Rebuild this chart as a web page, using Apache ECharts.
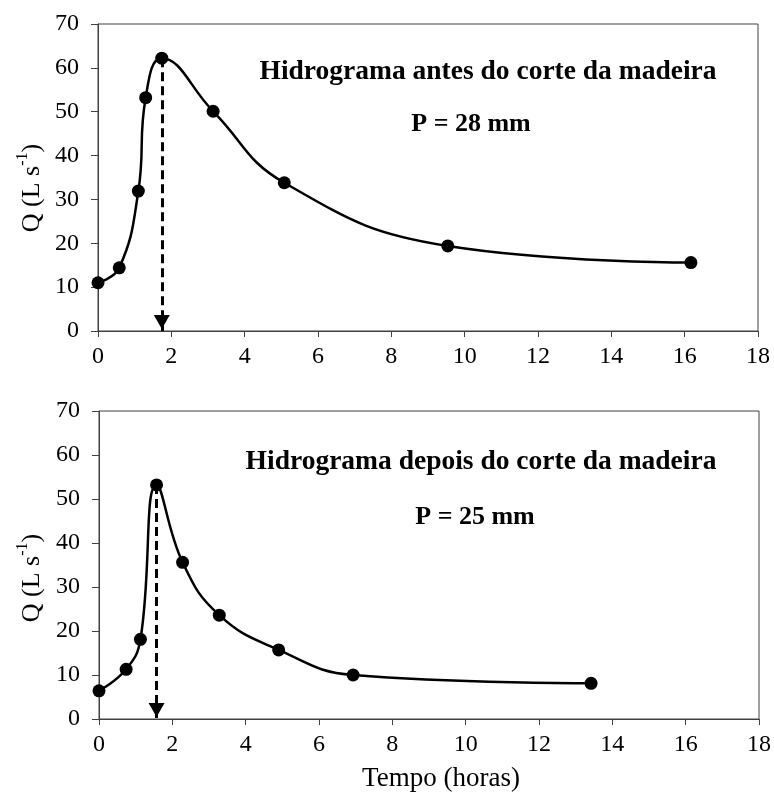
<!DOCTYPE html>
<html>
<head>
<meta charset="utf-8">
<script src="https://cdn.jsdelivr.net/npm/echarts@6/dist/echarts.min.js"></script>
<style>html,body{margin:0;padding:0;background:#fff;}#c{width:774px;height:794px;}</style>
</head>
<body>
<div id="c"></div>
<script>
// Data
var tempoAntes = [0, 0.58, 1.1, 1.3, 1.74, 3.14, 5.08, 9.54, 16.17];
var qAntes = [11.0, 14.4, 31.9, 53.2, 62.2, 50.1, 33.8, 19.4, 15.6];
var tempoDepois = [0, 0.74, 1.13, 1.57, 2.28, 3.28, 4.90, 6.93, 13.42];
var qDepois = [6.4, 11.3, 18.1, 53.2, 35.6, 23.6, 15.7, 10.0, 8.1];
var xTicks = [0, 2, 4, 6, 8, 10, 12, 14, 16, 18];
var yTicks = [0, 10, 20, 30, 40, 50, 60, 70];
var titleAntes = 'Hidrograma antes do corte da madeira';
var pAntes = 'P = 28 mm';
var titleDepois = 'Hidrograma depois do corte da madeira';
var pDepois = 'P = 25 mm';
var xName = 'Tempo (horas)';

var FONT = '"Liberation Serif", "Times New Roman", serif';
var AX = '#404040';

function pairs(xs, ys) { return xs.map(function (x, i) { return [x, ys[i]]; }); }
function peakIdx(ys) { var m = 0; ys.forEach(function (v, i) { if (v > ys[m]) m = i; }); return m; }

function xAxis(gi) {
  return {
    type: 'value', gridIndex: gi, min: xTicks[0], max: xTicks[xTicks.length - 1], interval: 2,
    axisLine: { show: true, lineStyle: { color: AX, width: 1 } },
    axisTick: { show: true, length: 6, lineStyle: { color: AX } },
    axisLabel: { color: '#000', fontFamily: FONT, fontSize: 24, margin: 14 },
    splitLine: { show: false }
  };
}
function yAxis(gi) {
  return {
    type: 'value', gridIndex: gi, min: yTicks[0], max: yTicks[yTicks.length - 1], interval: 10,
    axisLine: { show: true, lineStyle: { color: AX, width: 1 } },
    axisTick: { show: true, length: 7, lineStyle: { color: AX } },
    axisLabel: { color: '#000', fontFamily: FONT, fontSize: 24, margin: 19 },
    splitLine: { show: false }
  };
}
var arrowPath = 'path://M0,0 L15,0 L7.5,13 Z';
function lineSeries(gi, xs, ys) {
  var p = peakIdx(ys);
  return {
    type: 'line', xAxisIndex: gi, yAxisIndex: gi,
    data: pairs(xs, ys), smooth: 0.45,
    symbol: 'circle', symbolSize: 13,
    lineStyle: { color: '#000', width: 2.5 },
    itemStyle: { color: '#000', opacity: 1 },
    silent: true, animation: false, z: 3,
    markLine: {
      silent: true, animation: false,
      symbol: ['none', 'none'],
      label: { show: false },
      lineStyle: { color: '#000', width: 3, type: [9, 5], opacity: 1 },
      data: [[{ coord: [xs[p], ys[p]] }, { coord: [xs[p], 0] }]]
    }
  };
}
function arrowSeries(gi, xs, ys) {
  var p = peakIdx(ys);
  return {
    type: 'scatter', xAxisIndex: gi, yAxisIndex: gi,
    data: [[xs[p], 0]],
    symbol: arrowPath, symbolSize: [16, 14], symbolKeepAspect: false, symbolOffset: [0, -9],
    itemStyle: { color: '#000', opacity: 1 }, silent: true, animation: false, z: 4
  };
}
function yName(x, y) {
  return {
    type: 'text', x: x, y: y, rotation: Math.PI / 2,
    style: {
      text: '{n|Q (L s}{s|-1}{n|)}', align: 'center', verticalAlign: 'middle',
      rich: {
        n: { fontFamily: FONT, fontSize: 26, fill: '#000', verticalAlign: 'bottom', lineHeight: 30 },
        s: { fontFamily: FONT, fontSize: 16, fill: '#000', verticalAlign: 'top', lineHeight: 30, padding: [0, 0, 10, 0] }
      }
    }
  };
}
function txt(t, x, y, size, bold) {
  return { type: 'text', x: x, y: y, style: { text: t, align: 'center', verticalAlign: 'middle', fontFamily: FONT, fontSize: size, fontWeight: bold ? 'bold' : 'normal', fill: '#000' } };
}

var chart = echarts.init(document.getElementById('c'));
chart.setOption({
  backgroundColor: '#fff',
  animation: false,
  grid: [
    { left: 98, top: 24, width: 660, height: 307, show: true, borderColor: AX, borderWidth: 1, backgroundColor: 'transparent' },
    { left: 99, top: 411, width: 661, height: 308, show: true, borderColor: AX, borderWidth: 1, backgroundColor: 'transparent' }
  ],
  xAxis: [xAxis(0), xAxis(1)],
  yAxis: [yAxis(0), yAxis(1)],
  series: [
    lineSeries(0, tempoAntes, qAntes), arrowSeries(0, tempoAntes, qAntes),
    lineSeries(1, tempoDepois, qDepois), arrowSeries(1, tempoDepois, qDepois)
  ],
  graphic: [
    yName(30, 188), yName(30, 578),
    txt(titleAntes, 488, 72, 27.5, true), txt(pAntes, 471, 124, 26, true),
    txt(titleDepois, 481, 462, 27.5, true), txt(pDepois, 475, 517, 26, true),
    txt(xName, 441, 779, 27, false)
  ]
});
</script>
</body>
</html>
